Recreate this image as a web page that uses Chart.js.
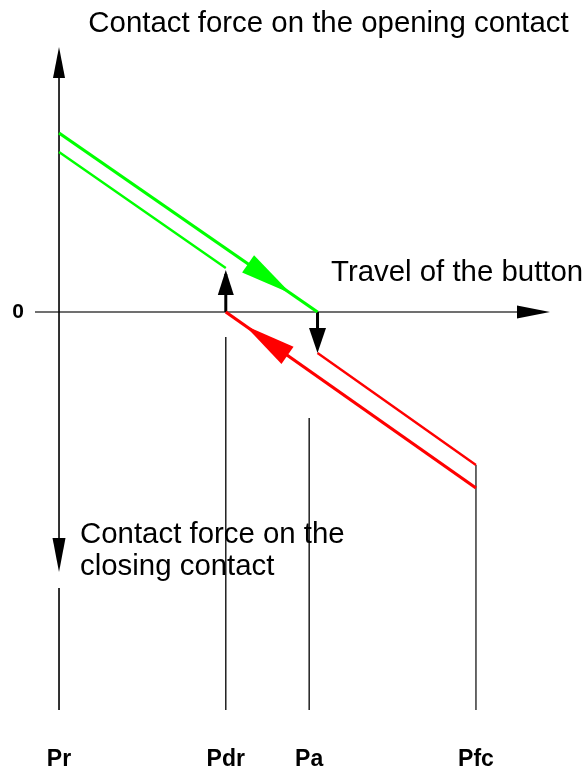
<!DOCTYPE html>
<html>
<head>
<meta charset="utf-8">
<script src="https://cdn.jsdelivr.net/npm/chart.js@4/dist/chart.umd.min.js"></script>
<style>
  html, body { margin: 0; padding: 0; background: #fff; }
  canvas { display: block; }
</style>
</head>
<body>
<canvas id="c" width="584" height="772"></canvas>
<script>
// ---- travel positions (x) and labels ----
const travelTicks  = [0, 1, 1.5, 2.5];
const travelLabels = ['Pr', 'Pdr', 'Pa', 'Pfc'];
const switchTravel = 1.55;          // where the opening contact force reaches 0

// ---- force curves (x = travel, y = contact force) ----
const openingPressX   = [0, 1.55];   const openingPressY   = [1.79, 0];
const openingReleaseX = [0, 1];      const openingReleaseY = [1.60, 0.44];
const closingReleaseX = [1, 2.5];    const closingReleaseY = [0, -1.76];
const closingPressX   = [1.55, 2.5]; const closingPressY   = [-0.41, -1.53];

// ---- axis extents ----
const xMin = -0.144, xMax = 2.944;
const yMin = -3.98,  yMax = 2.65;

const pts = (xs, ys) => xs.map((x, i) => ({ x, y: ys[i] }));

const GREEN = '#00ff00', RED = '#ff0000';

const datasets = [
  // curves (on top)
  { data: pts(openingPressX, openingPressY), borderColor: GREEN, borderWidth: 3.2 },
  { data: pts(openingReleaseX, openingReleaseY), borderColor: GREEN, borderWidth: 2.4 },
  { data: pts(closingReleaseX, closingReleaseY), borderColor: RED, borderWidth: 3.2 },
  { data: pts(closingPressX, closingPressY), borderColor: RED, borderWidth: 2.4 },
  // jumps
  { data: pts([1, 1], [0, 0.38]), borderColor: '#000', borderWidth: 3 },
  { data: pts([switchTravel, switchTravel], [0, -0.35]), borderColor: '#000', borderWidth: 3 },
  // reference lines at the travel positions
  { data: pts([1, 1], [-0.25, yMin]), borderColor: '#111', borderWidth: 1.4 },
  { data: pts([1.5, 1.5], [-1.06, yMin]), borderColor: '#111', borderWidth: 1.4 },
  { data: pts([2.5, 2.5], [-1.53, yMin]), borderColor: '#444', borderWidth: 1.6 },
  // force axis
  { data: pts([0, 0], [yMax - 0.2, -2.45]), borderColor: '#000', borderWidth: 1.6 },
  { data: pts([0, 0], [-2.76, yMin]), borderColor: '#000', borderWidth: 1.6 },
  // travel axis
  { data: pts([xMin, xMax - 0.1], [0, 0]), borderColor: '#707070', borderWidth: 2 }
].map(d => Object.assign({ showLine: true, pointRadius: 0, fill: false, borderCapStyle: 'butt' }, d));

// arrowheads: tip point (data units) + direction point (data units), length/half-width in px
const arrowHeads = [
  { from: [0, 0], to: [0, yMax], len: 31, half: 6, color: '#000' },
  { from: [0, 0], to: [0, -2.60], len: 34, half: 6.5, color: '#000' },
  { from: [0, 0], to: [xMax, 0], len: 33, half: 6.5, color: '#000' },
  { from: [1, 0], to: [1, 0.42], len: 25, half: 8, color: '#000' },
  { from: [switchTravel, 0], to: [switchTravel, -0.41], len: 25, half: 8.5, color: '#000' },
  { from: [0, 1.79], to: [1.39, 0.185], len: 52, half: 10.5, color: GREEN },
  { from: [2.5, -1.76], to: [1.115, -0.135], len: 52, half: 10.5, color: RED }
];

const notes = [
  { text: 'Contact force on the opening contact', x: 0.176, y: 2.80 },
  { text: 'Travel of the button', x: 1.631, y: 0.31 },
  { text: 'Contact force on the', x: 0.126, y: -2.31 },
  { text: 'closing contact', x: 0.126, y: -2.63 }
];

const decor = {
  id: 'decor',
  afterDatasetsDraw(chart) {
    const { ctx, scales: { x, y } } = chart;
    ctx.save();
    arrowHeads.forEach(a => {
      const fx = x.getPixelForValue(a.from[0]), fy = y.getPixelForValue(a.from[1]);
      const tx = x.getPixelForValue(a.to[0]),   ty = y.getPixelForValue(a.to[1]);
      const d = Math.hypot(tx - fx, ty - fy);
      const ux = (tx - fx) / d, uy = (ty - fy) / d;
      const bx = tx - ux * a.len, by = ty - uy * a.len;
      ctx.beginPath();
      ctx.moveTo(tx, ty);
      ctx.lineTo(bx - uy * a.half, by + ux * a.half);
      ctx.lineTo(bx + uy * a.half, by - ux * a.half);
      ctx.closePath();
      ctx.fillStyle = a.color;
      ctx.fill();
    });
    ctx.fillStyle = '#000';
    ctx.font = '29.4px "Liberation Sans", Arial, sans-serif';
    ctx.textAlign = 'left';
    ctx.textBaseline = 'alphabetic';
    notes.forEach(n => ctx.fillText(n.text, x.getPixelForValue(n.x), y.getPixelForValue(n.y)));
    ctx.restore();
  }
};

const tickFont = { family: '"Liberation Sans", Arial, sans-serif', size: 23, weight: 'bold' };

new Chart(document.getElementById('c'), {
  type: 'scatter',
  data: { datasets },
  options: {
    responsive: false,
    animation: false,
    devicePixelRatio: 1,
    layout: { padding: { top: 47, right: 34, left: 0, bottom: 0 } },
    plugins: { legend: { display: false }, tooltip: { enabled: false } },
    scales: {
      x: {
        type: 'linear', min: xMin, max: xMax,
        grid: { display: false, drawTicks: false },
        border: { display: false },
        afterBuildTicks: s => { s.ticks = travelTicks.map(v => ({ value: v })); },
        afterFit: s => { s.height = 62; },
        ticks: {
          autoSkip: false, maxRotation: 0, padding: 36, color: '#000', font: tickFont,
          callback: v => travelLabels[travelTicks.indexOf(v)] ?? ''
        }
      },
      y: {
        type: 'linear', min: yMin, max: yMax,
        grid: { display: false, drawTicks: false },
        border: { display: false },
        afterBuildTicks: s => { s.ticks = [{ value: 0 }]; },
        afterFit: s => { s.width = 35; },
        ticks: { padding: 11, color: '#000', font: { family: tickFont.family, size: 21, weight: 'bold' }, callback: () => '0' }
      }
    }
  },
  plugins: [decor]
});
</script>
</body>
</html>
